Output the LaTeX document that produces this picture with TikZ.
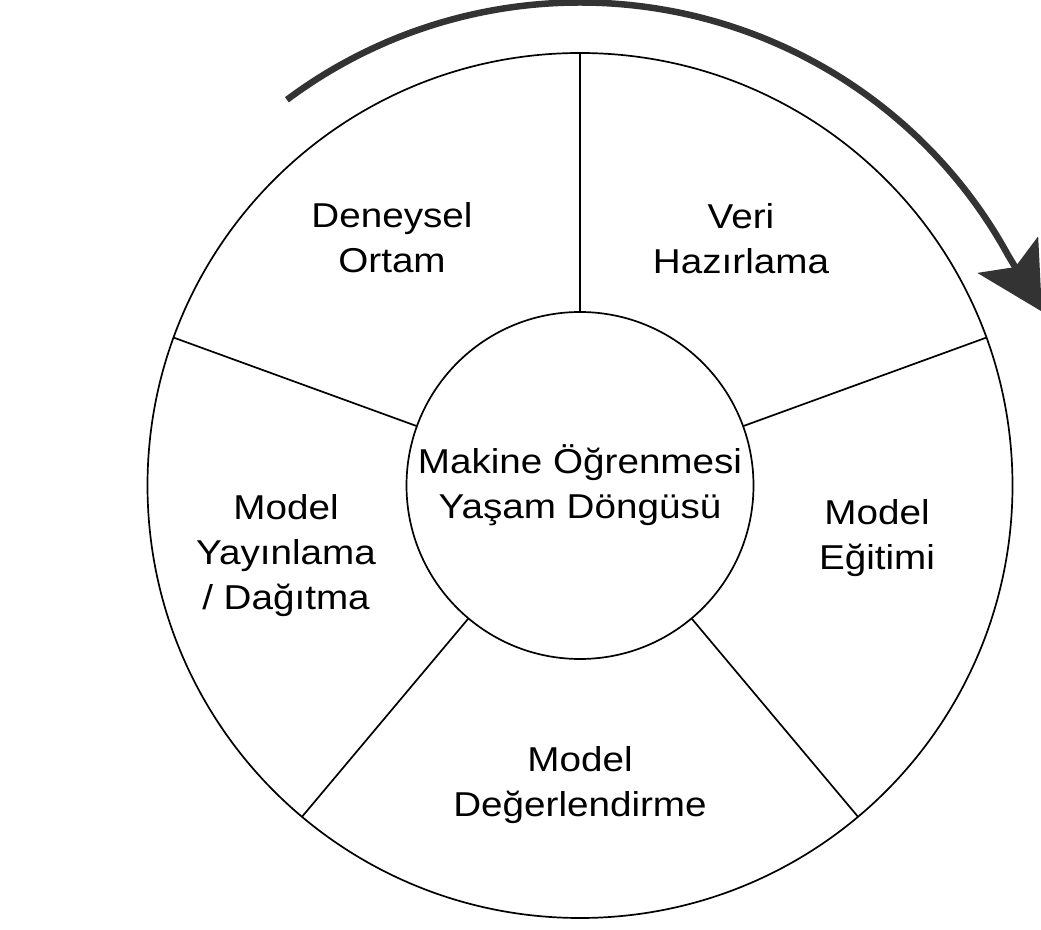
\documentclass[tikz,border=0pt]{standalone}
\usepackage{fontspec}
\setmainfont{Liberation Sans}[FakeStretch=1.12]
\usetikzlibrary{arrows.meta,calc}
\definecolor{arrowgray}{HTML}{333333}
\begin{document}
\begin{tikzpicture}[x=1pt,y=1pt,
  ringline/.style={line width=1.7pt, draw=black},
  ringshape/.style={circle, ringline, outer sep=0pt, inner sep=0pt},
  labelfont/.style={font=\fontsize{34.5}{45}\selectfont},
  % the base anchor of a multi-line label sits on its last line
  stagelabel/.style={labelfont, align=center, anchor=base, inner sep=0pt},
  cyclearrow/.style={line width=6.5pt, draw=arrowgray, line cap=butt,
    -{Stealth[length=66pt,width=70pt,inset=14pt,fill=arrowgray]}}]
\useasboundingbox (0,0) rectangle (1041,929);
\coordinate (c) at (580,443.5);

% outer ring and hub
\node[ringshape, minimum size=865pt] (ring) at (c) {};
\node[ringshape, minimum size=347pt, labelfont, align=center] (core) at (c)
  {Makine Öğrenmesi\\Yaşam Döngüsü};

% spokes separating the five stages
\foreach \a in {90,20,-50,-130,160}
  \draw[ringline] (core.\a) -- (ring.\a);

% stage names
\node[stagelabel] (deneysel) at (392,656) {Deneysel\\Ortam};
\node[stagelabel] (veri) at (741,655) {Veri\\Hazırlama};
\node[stagelabel] (egitim) at (877,359) {Model\\Eğitimi};
\node[stagelabel] (yayin) at (286,319) {Model\\Yayınlama\\/ Dağıtma};
\node[stagelabel] (deger) at (580,112) {Model\\Değerlendirme};

% clockwise cycle arrow
\coordinate (flowstart) at ($(c)+(127:487 and 483)$);
\draw[cyclearrow] (flowstart)
  arc[start angle=127, end angle=28.5, x radius=487, y radius=483]
  -- ++(-59:66);
\end{tikzpicture}
\end{document}
